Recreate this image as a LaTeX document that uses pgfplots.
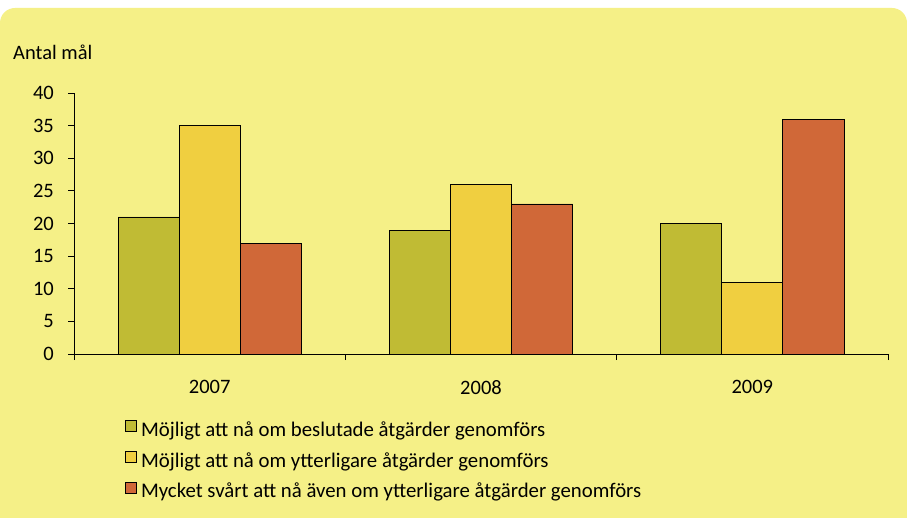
\documentclass[border=0pt]{standalone}
\usepackage{pgfplots}
\pgfplotsset{compat=1.18}
\usepackage{fontspec}
\setmainfont{Carlito}
\definecolor{bgc}{RGB}{245,240,135}
\definecolor{cgreen}{RGB}{192,187,52}
\definecolor{cyellow}{RGB}{240,207,64}
\definecolor{corange}{RGB}{208,104,56}
\begin{document}
\begin{tikzpicture}[x=1pt,y=1pt]
\useasboundingbox (0,0) rectangle (907,517);
\fill[white] (0,0) rectangle (907,517);
\fill[bgc,rounded corners=15pt] (0,-30) rectangle (907,509);
\node[anchor=base west,inner sep=0pt,font=\fontsize{20.5}{24}\selectfont] at (13,457) {Antal mål};
\begin{axis}[
  at={(74pt,163pt)}, anchor=south west,
  scale only axis, width=814pt, height=261pt,
  font=\fontsize{20.5}{24}\selectfont,
  /pgf/number format/assume math mode=true,
  ybar=0pt, bar width=0.225,
  xmin=0, xmax=3, ymin=0, ymax=40,
  ytick={0,5,...,40},
  xtick={0.5,1.5,2.5},
  xticklabels={2007,2008,2009},
  minor xtick={0,1,2,3},
  major x tick style={draw=none},
  tick align=outside,
  major tick length=6pt, minor tick length=6pt,
  tick style={black, line width=0.8pt},
  axis x line*=bottom, axis y line*=left,
  axis line style={black, line width=0.9pt, -},
  yticklabel style={anchor=east, inner sep=0pt, xshift=-14pt},
  xticklabel style={anchor=north, inner sep=0pt, yshift=-20pt},
  legend style={at={(axis description cs:0.0627,-0.251)}, anchor=north west,
    draw=none, fill=none, inner sep=0pt, row sep=10.5pt, column sep=4pt,
    nodes={inner sep=0pt, text height=14pt, text depth=4pt},
    font=\fontsize{20.8}{24}\selectfont},
  legend cell align=left,
  legend image code/.code={\draw[#1, line width=0.8pt] (0pt,0pt) rectangle (11pt,11pt);},
]
\addplot[fill=cgreen, draw=black, line width=0.75pt] coordinates {(0.5,21) (1.5,19) (2.5,20)};
\addplot[fill=cyellow, draw=black, line width=0.75pt] coordinates {(0.5,35) (1.5,26) (2.5,11)};
\addplot[fill=corange, draw=black, line width=0.75pt] coordinates {(0.5,17) (1.5,23) (2.5,36)};
\legend{Möjligt att nå om beslutade åtgärder genomförs,Möjligt att nå om ytterligare åtgärder genomförs,Mycket svårt att nå även om ytterligare åtgärder genomförs}
\end{axis}
\end{tikzpicture}
\end{document}
